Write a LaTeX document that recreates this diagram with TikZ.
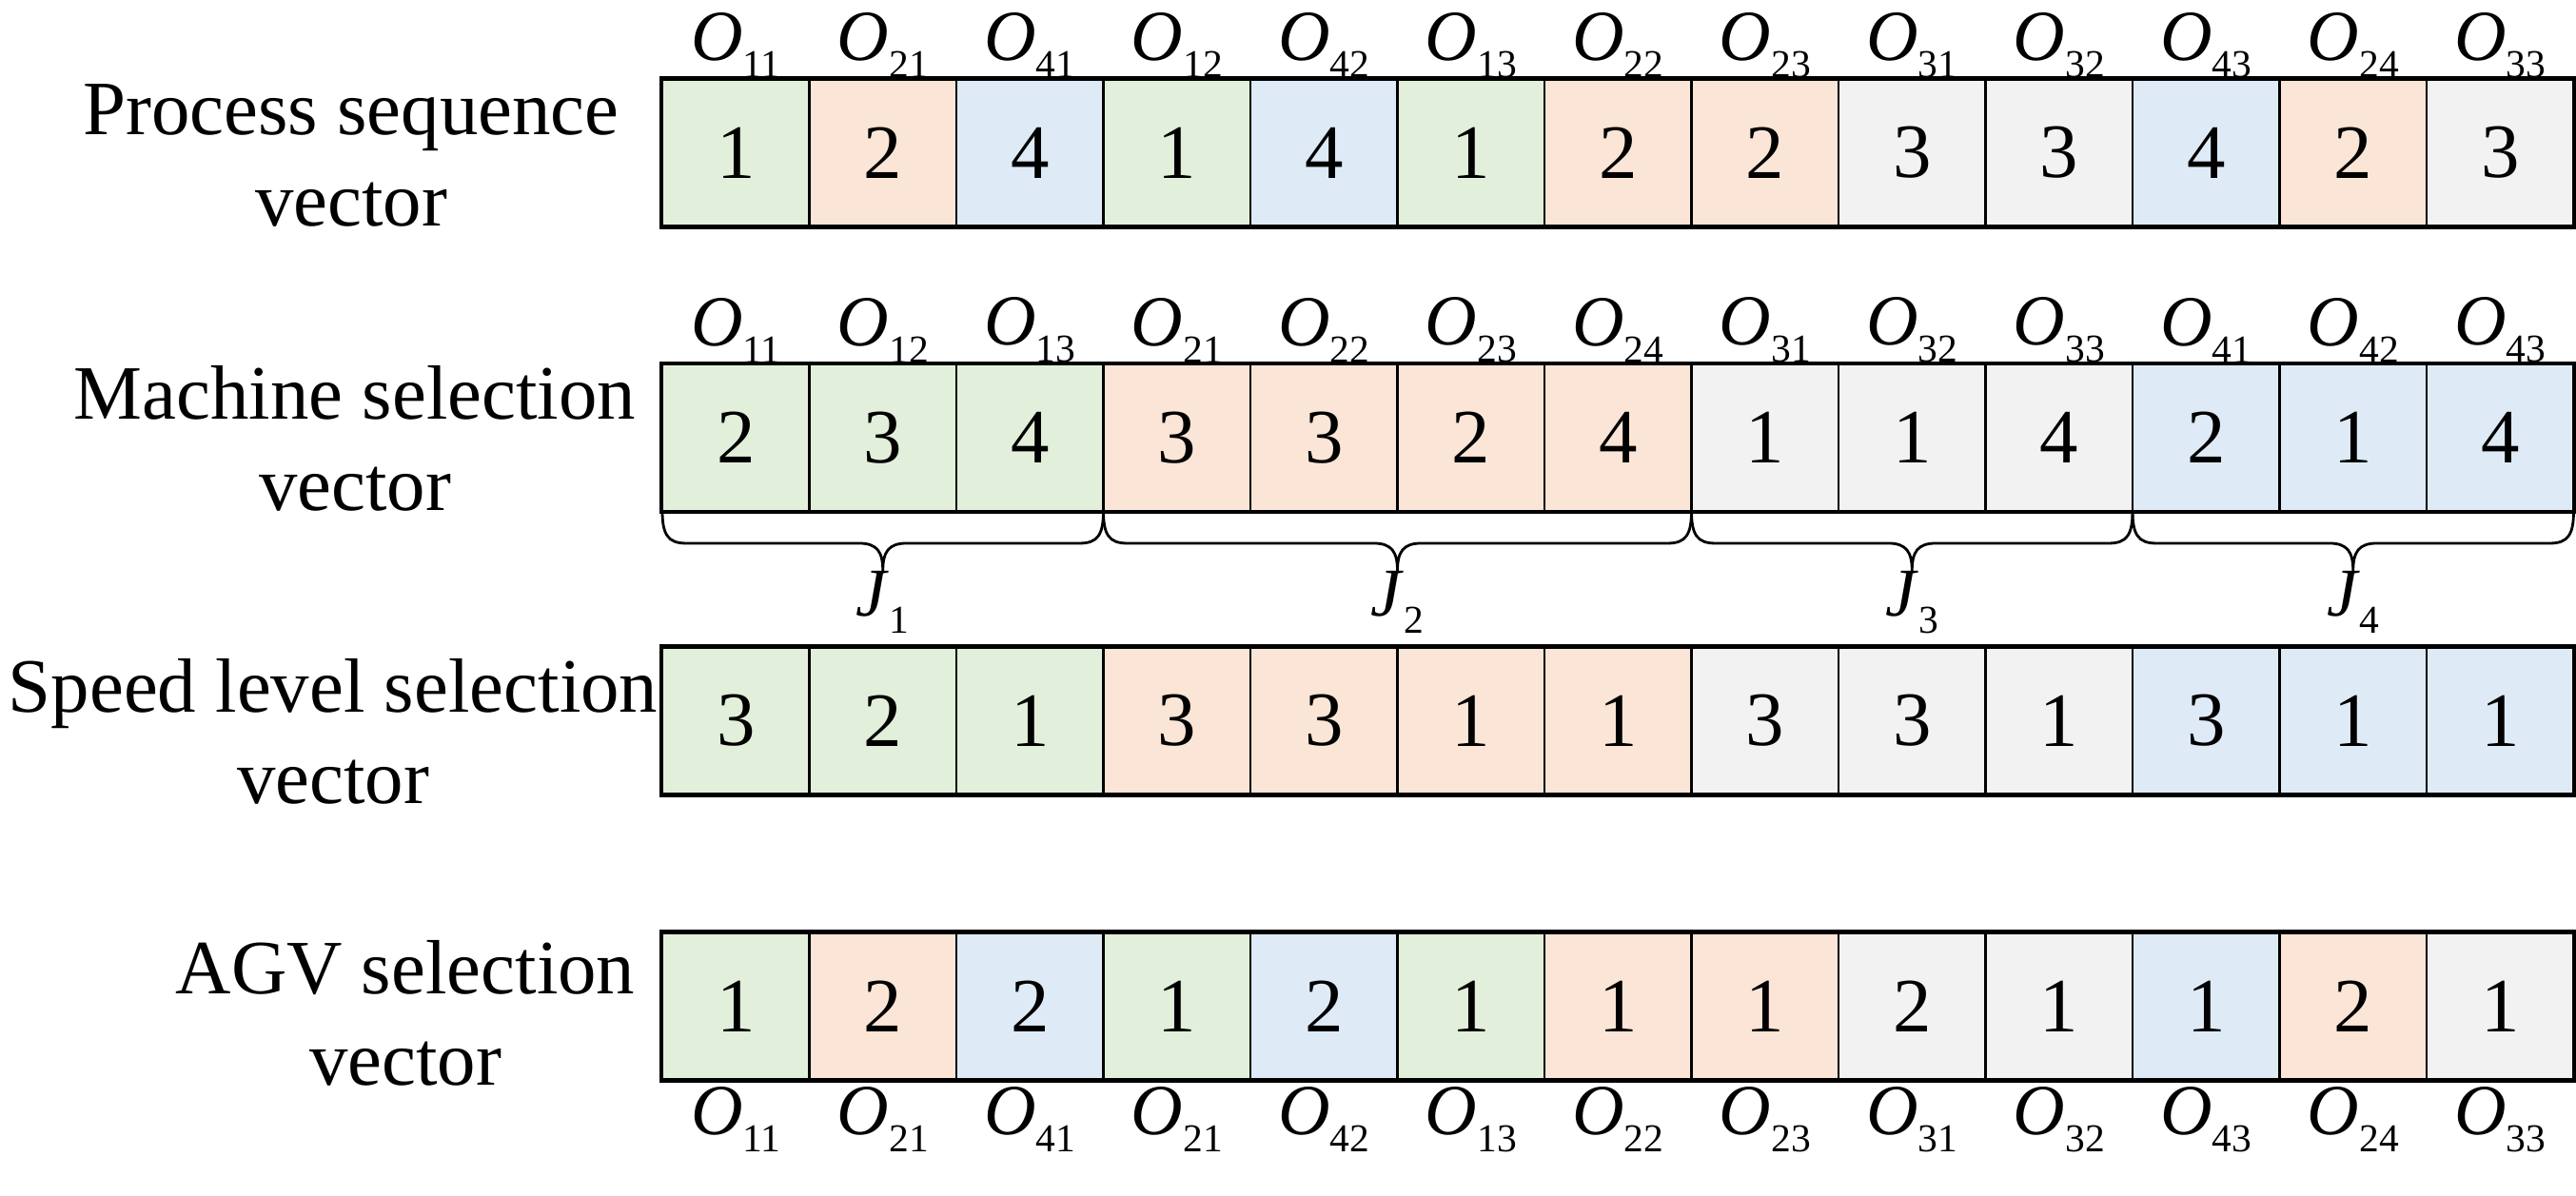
\documentclass[tikz,border=0pt]{standalone}
\usepackage{fontspec}
\setmainfont{Liberation Serif}
\definecolor{jobgreen}{HTML}{E2EFDA}
\definecolor{joborange}{HTML}{FBE5D6}
\definecolor{jobgray}{HTML}{F2F2F2}
\definecolor{jobblue}{HTML}{DEEBF7}
\newcommand{\opsub}[2]{\textit{#1}\raisebox{-0.18cm}{\fontsize{11.8}{12}\selectfont #2}}
\tikzset{
  cell/.style={draw, line width=0.7pt, minimum width=1.545cm, minimum height=1.54cm, inner sep=0pt, font=\fontsize{23}{23}\selectfont},
  oplab/.style={inner sep=0pt, font=\fontsize{21.5}{21.5}\selectfont},
  rowlab/.style={align=center, anchor=base, font=\fontsize{23}{27.5}\selectfont},
  frame/.style={draw, line width=1.1pt}
}
\begin{document}
\begin{tikzpicture}
\useasboundingbox (0,0) rectangle (27.07,12.57);
\node[rowlab] (lp) at (3.69,10.19) {Process sequence\\vector};
\node[rowlab] (lm) at (3.73,7.20) {Machine selection\\vector};
\node[rowlab] (ls) at (3.50,4.12) {Speed level selection\\vector};
\node[rowlab] (la) at (4.26,1.16) {AGV selection\\vector};
% process sequence
\foreach \v/\o/\c [count=\i] in {1/11/jobgreen,2/21/joborange,4/41/jobblue,1/12/jobgreen,4/42/jobblue,1/13/jobgreen,2/22/joborange,2/23/joborange,3/31/jobgray,3/32/jobgray,4/43/jobblue,2/24/joborange,3/33/jobgray}
{
  \node[cell, fill=\c] (p\i) at (6.1875+1.545*\i,10.965) {\v};
  \node[oplab, anchor=south] (po\i) at (p\i.north) {\opsub{O}{\o}};
}
% machine selection
\foreach \v/\o/\c [count=\i] in {2/11/jobgreen,3/12/jobgreen,4/13/jobgreen,3/21/joborange,3/22/joborange,2/23/joborange,4/24/joborange,1/31/jobgray,1/32/jobgray,4/33/jobgray,2/41/jobblue,1/42/jobblue,4/43/jobblue}
{
  \node[cell, fill=\c] (m\i) at (6.1875+1.545*\i,7.97) {\v};
  \node[oplab, anchor=south] (mo\i) at (m\i.north) {\opsub{O}{\o}};
}
% speed level selection
\foreach \v/\c [count=\i] in {3/jobgreen,2/jobgreen,1/jobgreen,3/joborange,3/joborange,1/joborange,1/joborange,3/jobgray,3/jobgray,1/jobgray,3/jobblue,1/jobblue,1/jobblue}
  \node[cell, fill=\c] (s\i) at (6.1875+1.545*\i,4.995) {\v};
% AGV selection
\foreach \v/\o/\c [count=\i] in {1/11/jobgreen,2/21/joborange,2/41/jobblue,1/21/jobgreen,2/42/jobblue,1/13/jobgreen,1/22/joborange,1/23/joborange,2/31/jobgray,1/32/jobgray,1/43/jobblue,2/24/joborange,1/33/jobgray}
{
  \node[cell, fill=\c] (a\i) at (6.1875+1.545*\i,1.995) {\v};
  \node[oplab, anchor=north, yshift=-0.06cm] (ao\i) at (a\i.south) {\opsub{O}{\o}};
}
\draw[frame] (p1.north west) rectangle (p13.south east);
\draw[frame] (m1.north west) rectangle (m13.south east);
\draw[frame] (s1.north west) rectangle (s13.south east);
\draw[frame] (a1.north west) rectangle (a13.south east);
% job braces
\foreach \a/\b/\n in {6.96/11.595/1,11.595/17.775/2,17.775/22.41/3,22.41/27.045/4}
{
  \pgfmathsetmacro\m{(\a+\b)/2}
  \draw[line width=0.8pt] (\a,7.2) .. controls (\a,6.95) and (\a+0.06,6.86) .. (\a+0.25,6.86) -- (\m-0.25,6.86) .. controls (\m-0.06,6.86) and (\m,6.77) .. (\m,6.57) .. controls (\m,6.77) and (\m+0.06,6.86) .. (\m+0.25,6.86) -- (\b-0.25,6.86) .. controls (\b-0.06,6.86) and (\b,6.95) .. (\b,7.2);
  \node[anchor=north, inner sep=0pt, font=\fontsize{20.5}{20.5}\selectfont] (j\n) at (\m,6.57) {\opsub{J}{\n}};
}
\end{tikzpicture}
\end{document}
